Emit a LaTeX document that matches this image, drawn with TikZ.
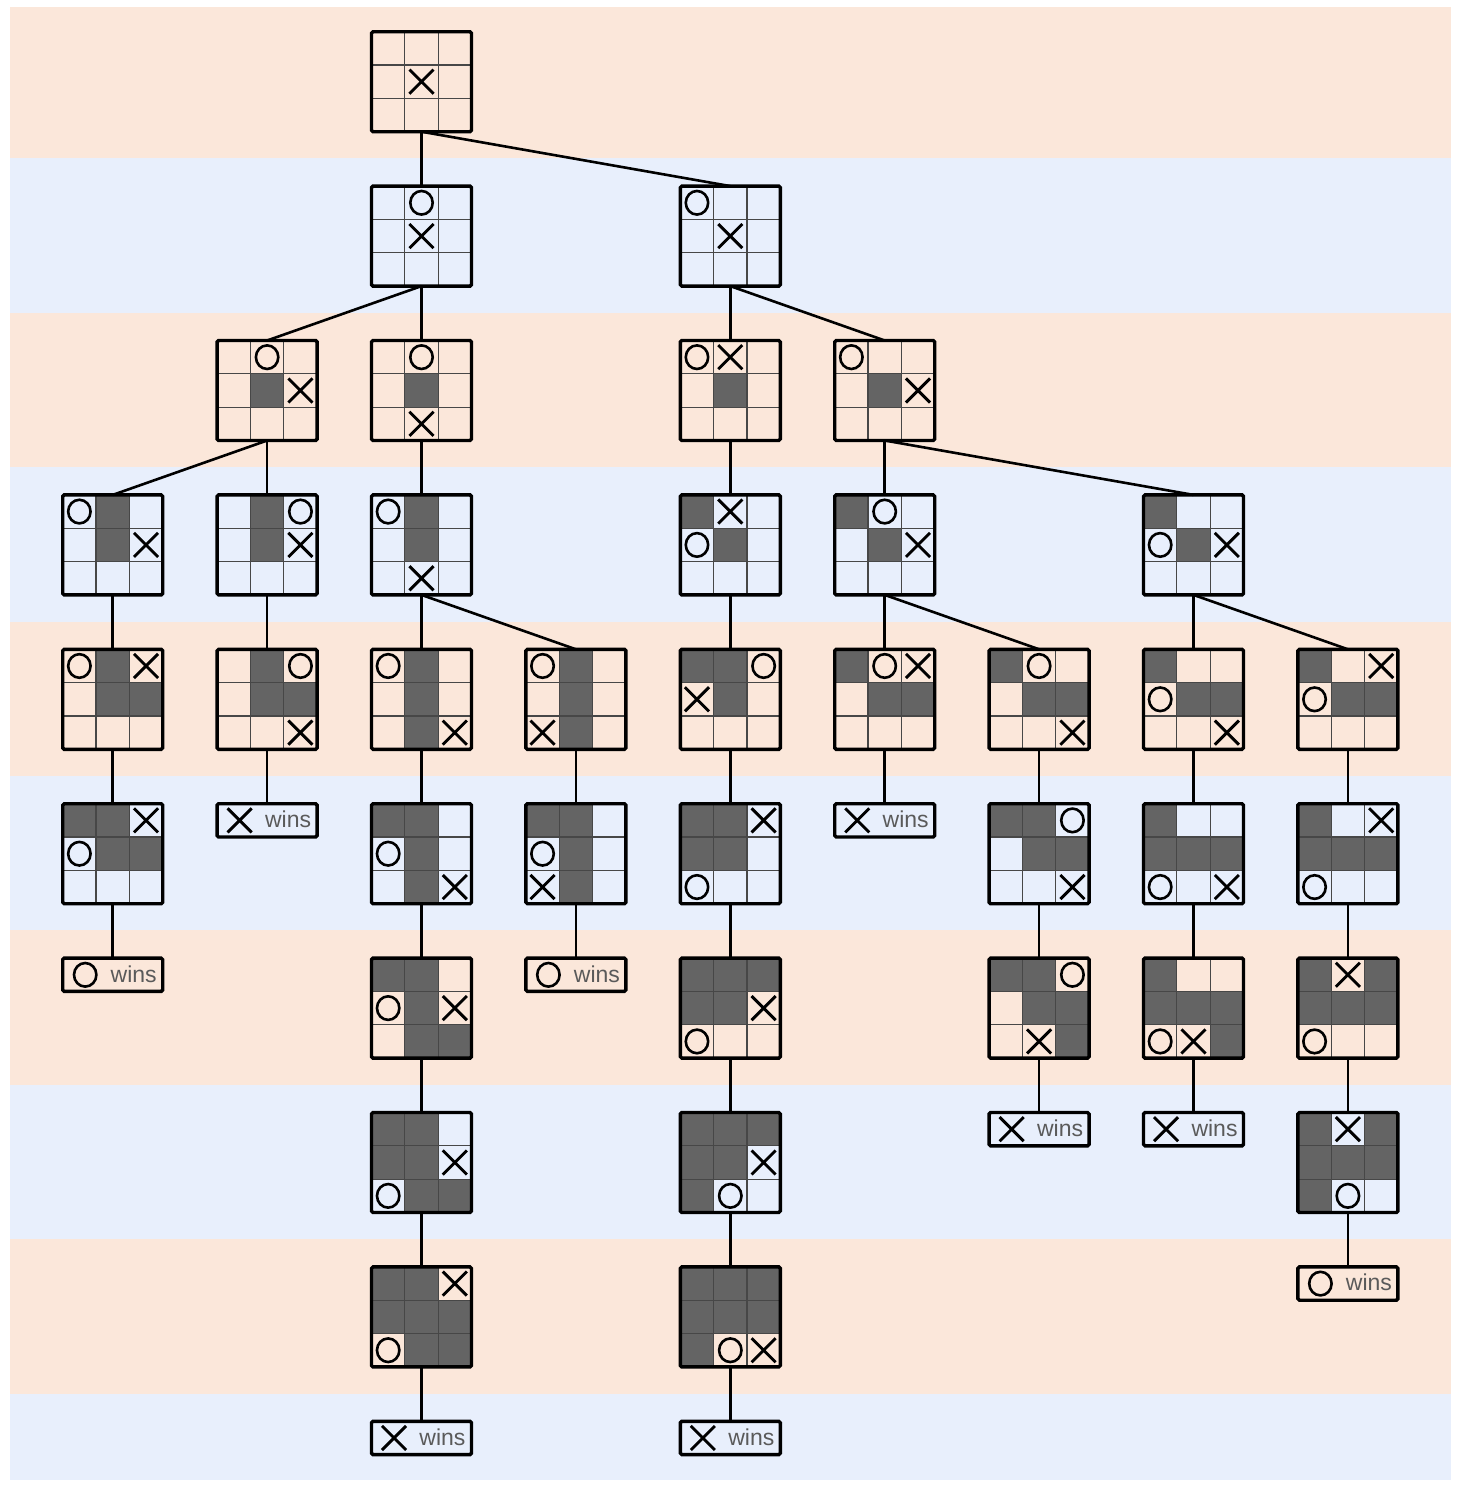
\documentclass[tikz,border=0pt]{standalone}
\usepackage{fontspec}
\setsansfont{Liberation Sans}
\usetikzlibrary{calc}
\definecolor{peach}{HTML}{FBE7DA}
\definecolor{lblue}{HTML}{E8EFFC}
\definecolor{darkcell}{HTML}{646464}
\definecolor{winsgray}{HTML}{5A5A5A}
\tikzset{
  boardbox/.style={draw=black, line width=3.4pt, rounded corners=1.5pt, minimum width=100pt, minimum height=100pt, inner sep=0pt, outer sep=0pt},
  winsbox/.style={draw=black, line width=3.4pt, rounded corners=1.5pt, minimum width=100pt, minimum height=33.3pt, inner sep=0pt, outer sep=0pt},
  gridline/.style={line width=1.1pt, draw=black!72},
  xmark/.style={line width=2.9pt, draw=black},
  omark/.style={line width=2.6pt, draw=black},
  edge/.style={line width=2.6pt, draw=black},
  winstext/.style={text=winsgray, font=\sffamily\fontsize{23}{23}\selectfont, inner sep=0pt}
}
\newcommand{\markX}[2]{\draw[xmark] ({#2*100/3+4.6},{#1*100/3+4.6}) -- ++(24.1,24.1) ({#2*100/3+4.6},{#1*100/3+28.7}) -- ++(24.1,-24.1);}
\newcommand{\markO}[2]{\draw[omark] ({#2*100/3+50/3},{#1*100/3+50/3}) ellipse [x radius=11.2pt, y radius=11.8pt];}
% name, col, row, darks, xs, os
\newcommand{\tttboard}[6]{%
\begin{scope}[shift={({62.7+154.4*#2},{31.7+154.4*#3})}]
  \foreach \r/\c in {#4} {\fill[darkcell] ({\c*100/3},{\r*100/3}) rectangle ++({100/3},{100/3});}
  \draw[gridline] ({100/3},0) -- ({100/3},100) ({200/3},0) -- ({200/3},100) (0,{100/3}) -- (100,{100/3}) (0,{200/3}) -- (100,{200/3});
  \foreach \r/\c in {#5} {\markX{\r}{\c}}
  \foreach \r/\c in {#6} {\markO{\r}{\c}}
  \node[boardbox] (#1) at (50,50) {};
\end{scope}}
% name, col, row, X or O
\newcommand{\tttwins}[4]{%
\begin{scope}[shift={({62.7+154.4*#2},{31.7+154.4*#3})}]
  \ifx#4X
    \draw[xmark] (10.5,4.6) -- ++(24.1,24.1) (10.5,28.7) -- ++(24.1,-24.1);
  \else
    \draw[omark] (22.5,16.7) ellipse [x radius=11.2pt, y radius=11.8pt];
  \fi
  \node[winstext, anchor=base] at (71,24) {wins};
  \node[winsbox] (#1) at (50,{100/6}) {};
\end{scope}}

\begin{document}
\begin{tikzpicture}[x=1pt, y=-1pt]
\useasboundingbox (0,0) rectangle (1460,1486);
\fill[white] (0,0) rectangle (1460,1486);
% bands
\fill[peach] (10,7) rectangle (1451,158.3);
\fill[lblue] (10,158.3) rectangle (1451,312.7);
\fill[peach] (10,312.7) rectangle (1451,467.1);
\fill[lblue] (10,467.1) rectangle (1451,621.5);
\fill[peach] (10,621.5) rectangle (1451,775.9);
\fill[lblue] (10,775.9) rectangle (1451,930.3);
\fill[peach] (10,930.3) rectangle (1451,1084.7);
\fill[lblue] (10,1084.7) rectangle (1451,1239.1);
\fill[peach] (10,1239.1) rectangle (1451,1393.5);
\fill[lblue] (10,1393.5) rectangle (1451,1480);

% row 0
\tttboard{b02}{2}{0}{}{1/1}{}
% row 1
\tttboard{b12}{2}{1}{}{1/1}{0/1}
\tttboard{b14}{4}{1}{}{1/1}{0/0}
% row 2
\tttboard{b21}{1}{2}{1/1}{1/2}{0/1}
\tttboard{b22}{2}{2}{1/1}{2/1}{0/1}
\tttboard{b24}{4}{2}{1/1}{0/1}{0/0}
\tttboard{b25}{5}{2}{1/1}{1/2}{0/0}
% row 3
\tttboard{b30}{0}{3}{0/1,1/1}{1/2}{0/0}
\tttboard{b31}{1}{3}{0/1,1/1}{1/2}{0/2}
\tttboard{b32}{2}{3}{0/1,1/1}{2/1}{0/0}
\tttboard{b34}{4}{3}{0/0,1/1}{0/1}{1/0}
\tttboard{b35}{5}{3}{0/0,1/1}{1/2}{0/1}
\tttboard{b37}{7}{3}{0/0,1/1}{1/2}{1/0}
% row 4
\tttboard{b40}{0}{4}{0/1,1/1,1/2}{0/2}{0/0}
\tttboard{b41}{1}{4}{0/1,1/1,1/2}{2/2}{0/2}
\tttboard{b42}{2}{4}{0/1,1/1,2/1}{2/2}{0/0}
\tttboard{b43}{3}{4}{0/1,1/1,2/1}{2/0}{0/0}
\tttboard{b44}{4}{4}{0/0,0/1,1/1}{1/0}{0/2}
\tttboard{b45}{5}{4}{0/0,1/1,1/2}{0/2}{0/1}
\tttboard{b46}{6}{4}{0/0,1/1,1/2}{2/2}{0/1}
\tttboard{b47}{7}{4}{0/0,1/1,1/2}{2/2}{1/0}
\tttboard{b48}{8}{4}{0/0,1/1,1/2}{0/2}{1/0}
% row 5
\tttboard{b50}{0}{5}{0/0,0/1,1/1,1/2}{0/2}{1/0}
\tttwins{b51}{1}{5}{X}
\tttboard{b52}{2}{5}{0/0,0/1,1/1,2/1}{2/2}{1/0}
\tttboard{b53}{3}{5}{0/0,0/1,1/1,2/1}{2/0}{1/0}
\tttboard{b54}{4}{5}{0/0,0/1,1/0,1/1}{0/2}{2/0}
\tttwins{b55}{5}{5}{X}
\tttboard{b56}{6}{5}{0/0,0/1,1/1,1/2}{2/2}{0/2}
\tttboard{b57}{7}{5}{0/0,1/0,1/1,1/2}{2/2}{2/0}
\tttboard{b58}{8}{5}{0/0,1/0,1/1,1/2}{0/2}{2/0}
% row 6
\tttwins{b60}{0}{6}{O}
\tttboard{b62}{2}{6}{0/0,0/1,1/1,2/1,2/2}{1/2}{1/0}
\tttwins{b63}{3}{6}{O}
\tttboard{b64}{4}{6}{0/0,0/1,0/2,1/0,1/1}{1/2}{2/0}
\tttboard{b66}{6}{6}{0/0,0/1,1/1,1/2,2/2}{2/1}{0/2}
\tttboard{b67}{7}{6}{0/0,1/0,1/1,1/2,2/2}{2/1}{2/0}
\tttboard{b68}{8}{6}{0/0,0/2,1/0,1/1,1/2}{0/1}{2/0}
% row 7
\tttboard{b72}{2}{7}{0/0,0/1,1/0,1/1,2/1,2/2}{1/2}{2/0}
\tttboard{b74}{4}{7}{0/0,0/1,0/2,1/0,1/1,2/0}{1/2}{2/1}
\tttwins{b76}{6}{7}{X}
\tttwins{b77}{7}{7}{X}
\tttboard{b78}{8}{7}{0/0,0/2,1/0,1/1,1/2,2/0}{0/1}{2/1}
% row 8
\tttboard{b82}{2}{8}{0/0,0/1,1/0,1/1,1/2,2/1,2/2}{0/2}{2/0}
\tttboard{b84}{4}{8}{0/0,0/1,0/2,1/0,1/1,1/2,2/0}{2/2}{2/1}
\tttwins{b88}{8}{8}{O}
% row 9
\tttwins{b92}{2}{9}{X}
\tttwins{b94}{4}{9}{X}

% edges
\foreach \p/\q in {b02/b12, b02/b14, b12/b21, b12/b22, b14/b24, b14/b25,
  b21/b30, b21/b31, b22/b32, b24/b34, b25/b35, b25/b37,
  b30/b40, b31/b41, b32/b42, b32/b43, b34/b44, b35/b45, b35/b46, b37/b47, b37/b48,
  b40/b50, b41/b51, b42/b52, b43/b53, b44/b54, b45/b55, b46/b56, b47/b57, b48/b58,
  b50/b60, b52/b62, b53/b63, b54/b64, b56/b66, b57/b67, b58/b68,
  b62/b72, b64/b74, b66/b76, b67/b77, b68/b78,
  b72/b82, b74/b84, b78/b88,
  b82/b92, b84/b94}
  {\draw[edge] (\p.south) -- (\q.north);}
\end{tikzpicture}
\end{document}
